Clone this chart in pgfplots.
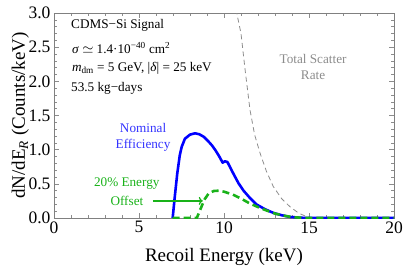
\documentclass[border=0pt]{standalone}
\usepackage{fontspec}
\setmainfont{Liberation Serif}
\usepackage{pgfplots}
\pgfplotsset{compat=1.18}
\usetikzlibrary{arrows.meta}
\definecolor{nomblue}{rgb}{0,0,1}
\definecolor{nomtext}{rgb}{0.2,0.2,1}
\definecolor{offgreen}{rgb}{0.1,0.7,0.1}
\definecolor{scatgray}{rgb}{0.55,0.55,0.55}
\begin{document}
\begin{tikzpicture}
\begin{axis}[name=ax, scale only axis, width=340bp, height=205bp,
  xmin=0, xmax=20, ymin=0, ymax=3,
  xtick={0,5,10,15,20}, ytick={0,0.5,1,1.5,2,2.5,3},
  minor x tick num=4, minor y tick num=4,
  tick align=inside, major tick length=5bp, minor tick length=3bp,
  axis line style={gray}, every tick/.style={gray!90},
  /pgf/number format/assume math mode=true,
  y tick label style={/pgf/number format/.cd, fixed, fixed zerofill, precision=1},
  tick label style={font=\fontsize{17.5bp}{20bp}\selectfont},
  label style={font=\fontsize{19bp}{22bp}\selectfont},
  xlabel={Recoil Energy (keV)},
  ylabel={dN/dE\textsubscript{\itshape R} (Counts/keV)},
  xlabel style={at={(axis description cs:0.5,-0.2146)}, anchor=base},
  ylabel style={at={(axis description cs:-0.0853,0.5)}, anchor=base},
  clip=true]
\addplot[scatgray, line width=0.8pt, dash pattern=on 5bp off 3.5bp] coordinates {
(10.6,3.3) (10.75,3.0) (11.0,2.7) (11.25,2.15) (11.53,1.58) (11.8,1.22) (12.12,0.95)
(12.5,0.68) (12.9,0.46) (13.4,0.28) (13.88,0.165) (14.4,0.07) (14.86,0.02) (15.3,0)};
\addplot[nomblue, line width=2.6pt, line join=round] coordinates {
(6.98,0) (7.1,0.3) (7.25,0.65) (7.4,0.92) (7.51,1.04) (7.7,1.16) (8.0,1.22) (8.3,1.24)
(8.55,1.225) (8.8,1.19) (9.05,1.13) (9.3,1.06) (9.5,0.99) (9.7,0.91) (9.92,0.81)
(10.05,0.83) (10.2,0.82) (10.55,0.65) (10.85,0.51) (11.15,0.40) (11.5,0.30) (11.9,0.20)
(12.4,0.13) (12.9,0.075) (13.4,0.04) (13.9,0.015) (14.5,0.004) (15,0) (20,0)};
\addplot[offgreen, line width=2.6pt, dash pattern=on 7bp off 4bp] coordinates {
(6.98,0) (8.4,0) (8.6,0.12) (8.85,0.27) (9.1,0.36) (9.4,0.395) (9.7,0.40) (10.0,0.385)
(10.5,0.345) (11.0,0.285) (11.5,0.215) (12.0,0.16) (12.5,0.11) (13.0,0.065) (13.5,0.035)
(14,0.014) (14.5,0.004) (15,0) (20,0)};
\draw[offgreen, line width=1.3pt, -{To[length=4bp,width=8bp]}] (axis cs:5.82,0.25) -- (axis cs:8.75,0.25);
\begin{scope}[every node/.style={font=\fontsize{13.2bp}{15bp}\selectfont, inner sep=0pt}]
\node[anchor=base west] at (axis cs:1.0,2.766) {CDMS−Si Signal};
\node[anchor=base west] at (axis cs:1.05,2.41) {\textit{σ} $\simeq$ 1.4·10\textsuperscript{−40} cm\textsuperscript{2}};
\node[anchor=base west] at (axis cs:1.05,2.14) {\textit{m}\textsubscript{dm} = 5 GeV, |\textit{δ}| = 25 keV};
\node[anchor=base west] at (axis cs:1.0,1.848) {53.5 kg−days};
\node[anchor=base, text=nomtext] at (axis cs:5.24,1.248) {Nominal};
\node[anchor=base, text=nomtext] at (axis cs:5.24,1.024) {Efficiency};
\node[anchor=base, text=offgreen] at (axis cs:4.28,0.458) {20\% Energy};
\node[anchor=base, text=offgreen] at (axis cs:4.29,0.19) {Offset};
\node[anchor=base, text=scatgray] at (axis cs:15.24,2.268) {Total Scatter};
\node[anchor=base, text=scatgray] at (axis cs:15.24,2.02) {Rate};
\end{scope}
\end{axis}
\pgfresetboundingbox
\path (ax.south west) ++(-54bp,-53bp) rectangle ++(403bp,271bp);
\end{tikzpicture}
\end{document}
